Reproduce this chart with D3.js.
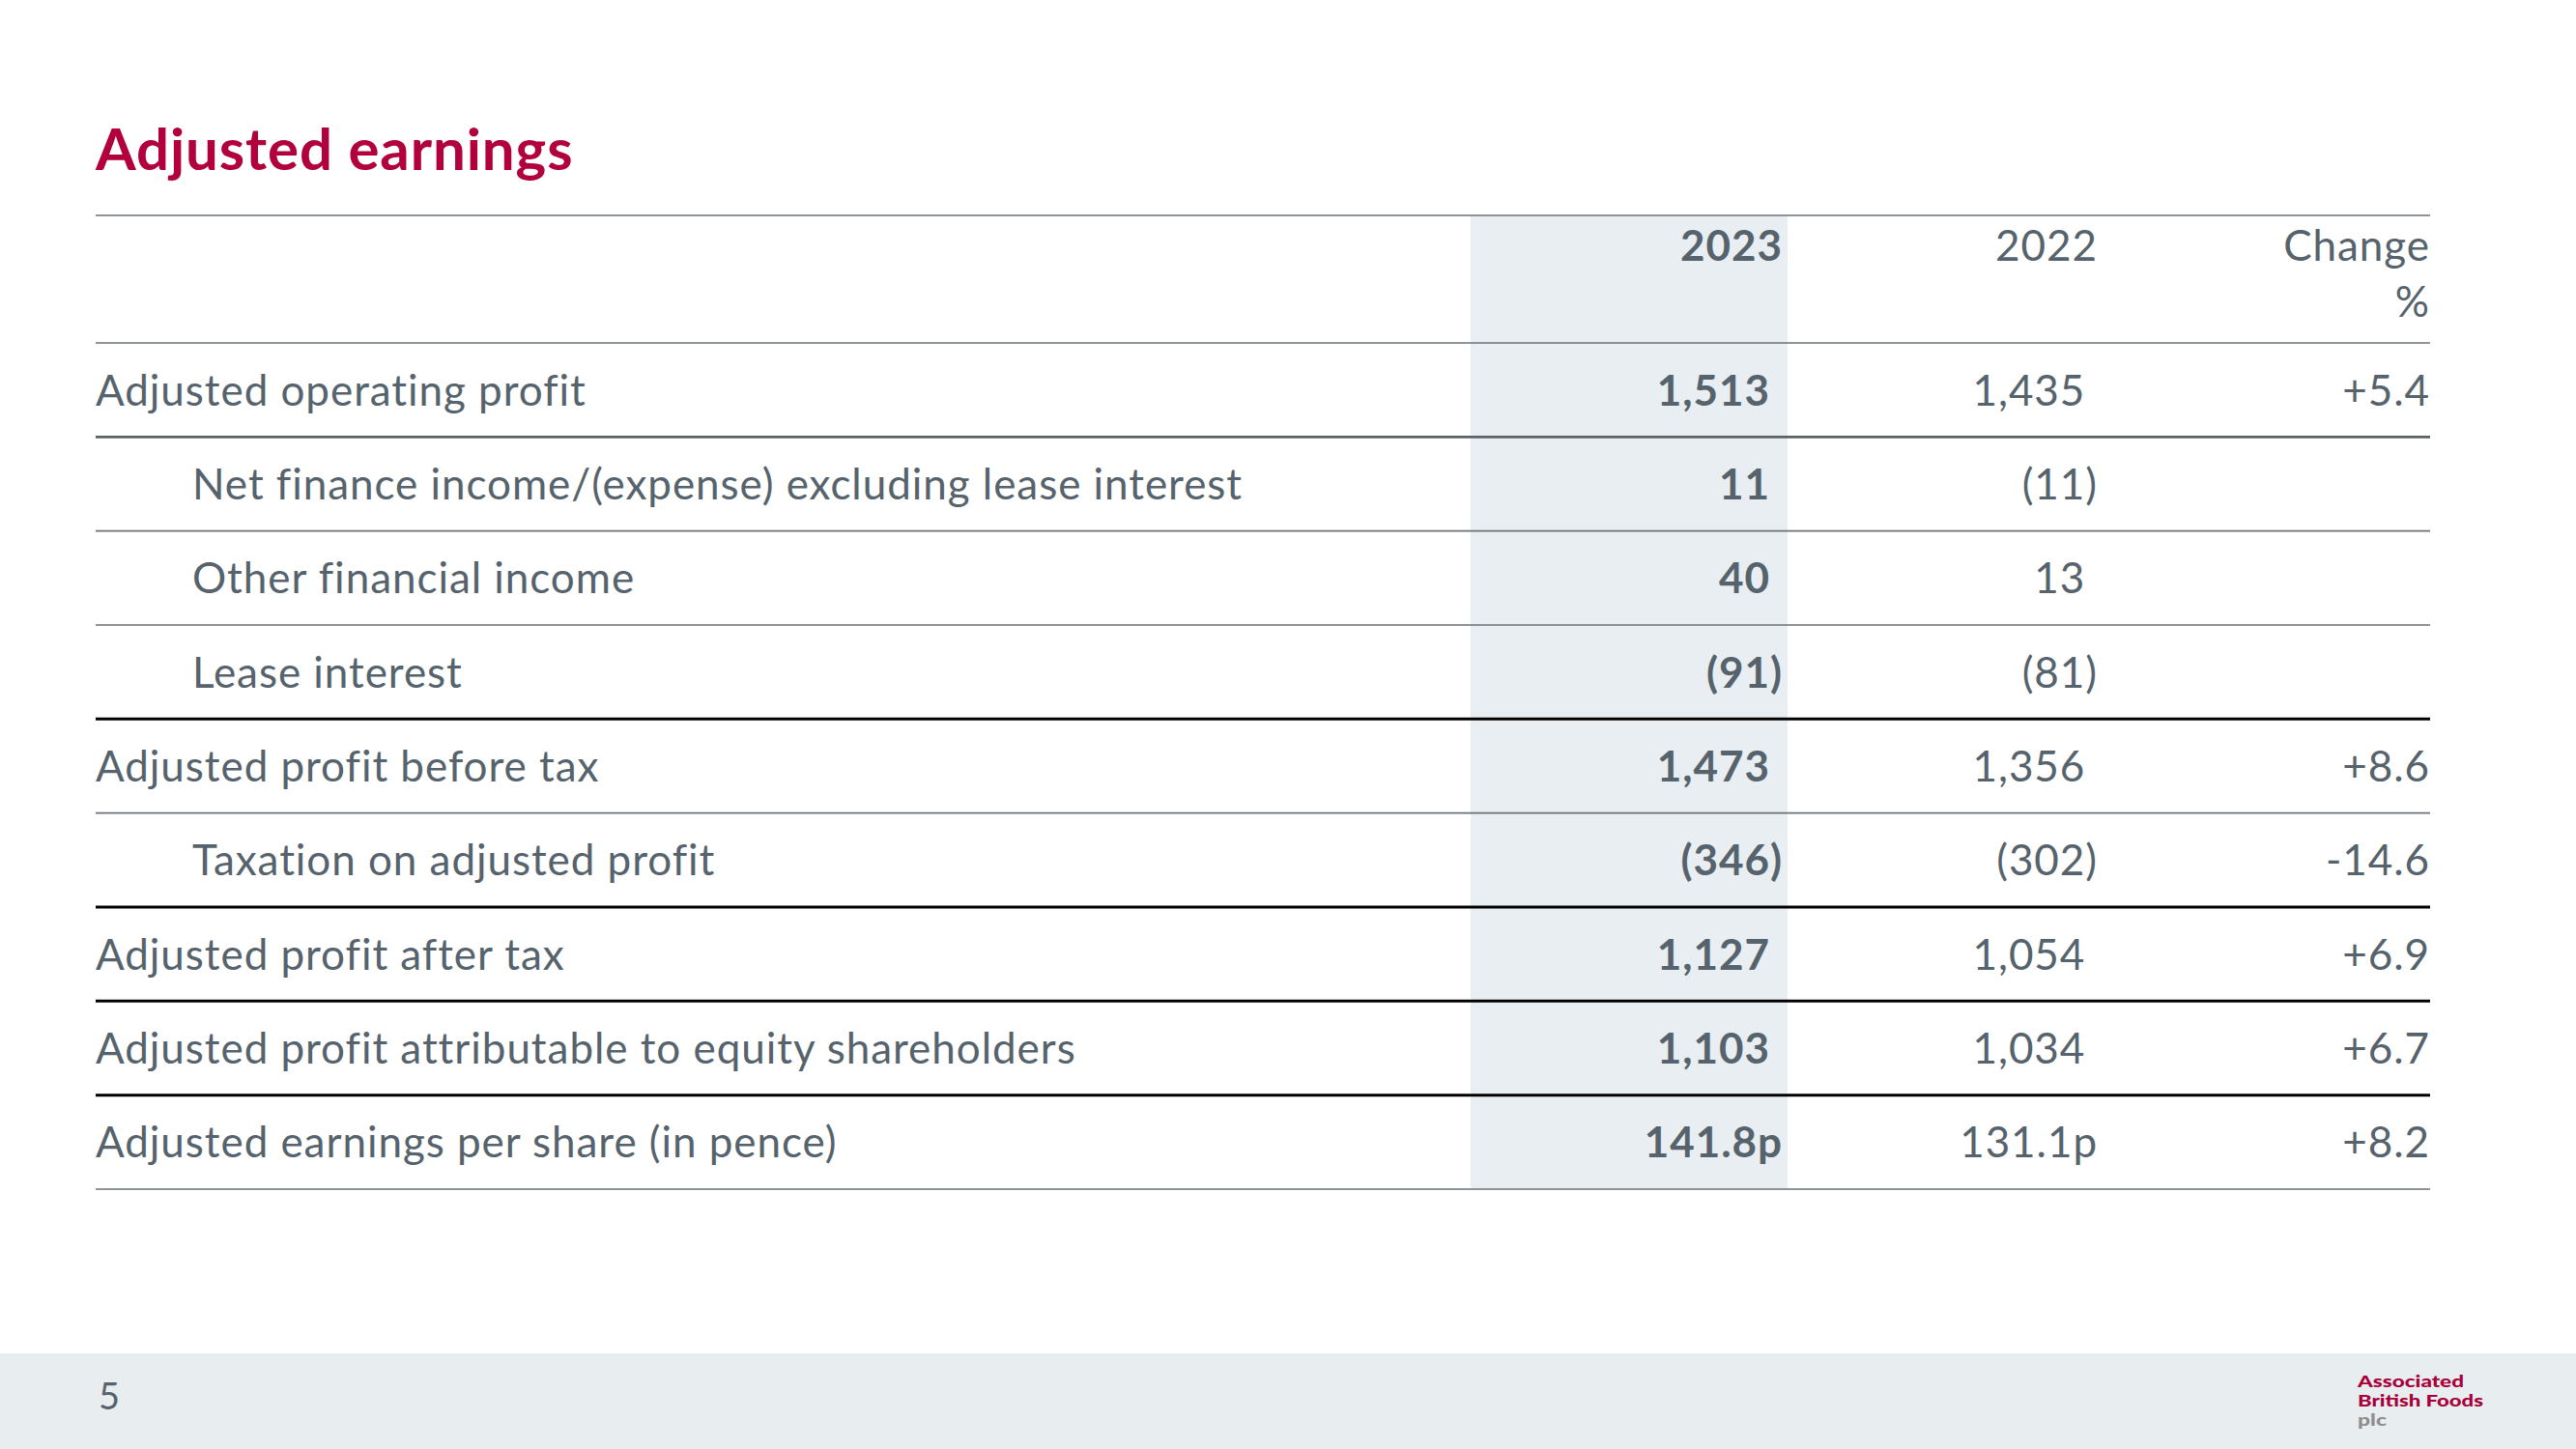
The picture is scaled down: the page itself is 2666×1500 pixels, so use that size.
<!DOCTYPE html>
<html><head><meta charset="utf-8">
<script src="https://cdn.jsdelivr.net/npm/d3@7"></script>
<style>html,body{margin:0;padding:0;background:#fff;}svg{display:block;}</style>
</head><body><div id="chart"></div>
<script>
// ---- data ----
const title = "Adjusted earnings";
const rowLabels = [
  "Adjusted operating profit",
  "Net finance income/(expense) excluding lease interest",
  "Other financial income",
  "Lease interest",
  "Adjusted profit before tax",
  "Taxation on adjusted profit",
  "Adjusted profit after tax",
  "Adjusted profit attributable to equity shareholders",
  "Adjusted earnings per share (in pence)"
];
const rowIndent = [false, true, true, true, false, true, false, false, false];
const values2023 = [1513, 11, 40, -91, 1473, -346, 1127, 1103, 141.8];
const values2022 = [1435, -11, 13, -81, 1356, -302, 1054, 1034, 131.1];
const changePct = [5.4, null, null, null, 8.6, -14.6, 6.9, 6.7, 8.2];
const rowUnits = ["", "", "", "", "", "", "", "", "p"];
const columnHeaders = [["2023"], ["2022"], ["Change", "%"]];
// line style below each row: "thin" | "mid" | "black"
const ruleBelow = ["mid", "thin", "thin", "black", "thin", "black", "black", "black", "thin"];
const pageNumber = "5";
const logoLines = ["Associated", "British Foods", "plc"];

// ---- layout ----
const W = 2666, H = 1500;
const left = 99, right = 2515;
const topRule = 223, headBottom = 355, tableBottom = 1231;
const FONT = "Lato, 'Open Sans', sans-serif";
const fs = 44;
const ls = 0.95;
const textCol = "#56636c";
const crimson = "#b1003b";

const svg = d3.select("#chart").append("svg").attr("width", W).attr("height", H)
  .style("font-family", FONT);

svg.append("rect").attr("width", W).attr("height", H).attr("fill", "#fff");

// column scale (right edges)
const colKeys = ["y2023", "y2022", "chg"];
const colRight = d3.scaleOrdinal().domain(colKeys).range([1845, 2171, 2515]);
const shadeX = d3.scaleLinear().domain([0, 1]).range([1522, 1850]);

// row scale
const y = d3.scaleBand().domain(d3.range(rowLabels.length)).range([headBottom, tableBottom]).padding(0);

// shaded 2023 column
svg.append("rect").attr("x", shadeX(0)).attr("y", topRule)
  .attr("width", shadeX(1) - shadeX(0)).attr("height", tableBottom - topRule)
  .attr("fill", "#e8eef1");

// title
svg.append("text").attr("x", left).attr("y", 176).text(title)
  .attr("font-size", 60).attr("letter-spacing", 0.9).attr("font-weight", 700).attr("fill", crimson);

// header
const hdr = svg.append("g").attr("font-size", fs).attr("letter-spacing", ls).attr("fill", textCol).attr("text-anchor", "end");
columnHeaders.forEach((lines, i) => {
  lines.forEach((t, j) => {
    hdr.append("text").attr("x", colRight(colKeys[i])).attr("y", 270 + j * 58)
      .attr("font-weight", i === 0 ? 700 : 400).text(t);
  });
});

// measure ")" width for accounting alignment
const probe = svg.append("text").attr("font-size", fs).attr("letter-spacing", ls).text(")");
const parenW = probe.node().getComputedTextLength();
const probeB = svg.append("text").attr("font-size", fs).attr("letter-spacing", ls).attr("font-weight", 700).text(")");
const parenWB = probeB.node().getComputedTextLength();
probe.remove(); probeB.remove();

const fmtInt = d3.format(",");
function fmtVal(v, unit) {
  if (v == null) return "";
  if (unit === "p") return d3.format(".1f")(v) + "p";
  return v < 0 ? "(" + fmtInt(-v) + ")" : fmtInt(v);
}
function fmtChg(v) {
  if (v == null) return "";
  return (v > 0 ? "+" : "-") + d3.format(".1f")(Math.abs(v));
}
function needsPad(s) { return !(s.endsWith(")") || s.endsWith("p")); }

const baseOff = 16;
const rows = svg.append("g").selectAll("g").data(rowLabels.map((l, i) => i)).join("g")
  .attr("transform", i => `translate(0,${y(i) + y.bandwidth() / 2 + baseOff})`)
  .attr("font-size", fs).attr("letter-spacing", ls).attr("fill", textCol);

rows.append("text").attr("x", i => rowIndent[i] ? 199 : left).text(i => rowLabels[i]);

rows.append("text").attr("text-anchor", "end").attr("font-weight", 700)
  .each(function (i) {
    const s = fmtVal(values2023[i], rowUnits[i]);
    d3.select(this).attr("x", colRight("y2023") - (needsPad(s) ? parenWB : 0)).text(s);
  });
rows.append("text").attr("text-anchor", "end")
  .each(function (i) {
    const s = fmtVal(values2022[i], rowUnits[i]);
    d3.select(this).attr("x", colRight("y2022") - (needsPad(s) ? parenW : 0)).text(s);
  });
rows.append("text").attr("text-anchor", "end").attr("x", colRight("chg"))
  .text(i => fmtChg(changePct[i]));

// rules
const ruleStyle = {
  thin: { c: "#6d7175", w: 1.6 },
  mid: { c: "#5c6165", w: 2.6 },
  black: { c: "#000", w: 3 }
};
const rules = [{ y: topRule, s: "thin" }, { y: headBottom, s: "thin" }]
  .concat(ruleBelow.map((s, i) => ({ y: y(i) + y.bandwidth(), s })));
svg.append("g").selectAll("line").data(rules).join("line")
  .attr("x1", left).attr("x2", right)
  .attr("y1", d => d.y).attr("y2", d => d.y)
  .attr("stroke", d => ruleStyle[d.s].c).attr("stroke-width", d => ruleStyle[d.s].w);

// footer
svg.append("rect").attr("x", 0).attr("y", 1401).attr("width", W).attr("height", H - 1401).attr("fill", "#e8edf0");
svg.append("text").attr("x", 102).attr("y", 1459).attr("font-size", 38).attr("fill", textCol).text(pageNumber);

const logo = svg.append("g").attr("font-weight", 900).attr("font-size", 16);
logoLines.forEach((t, i) => {
  logo.append("text").attr("x", 2440).attr("y", [1436, 1456, 1476][i])
    .attr("fill", i < 2 ? "#a8003a" : "#8e8e8e")
    .attr("textLength", [110, 130, 30][i]).attr("lengthAdjust", "spacingAndGlyphs")
    .text(t);
});
</script></body></html>
